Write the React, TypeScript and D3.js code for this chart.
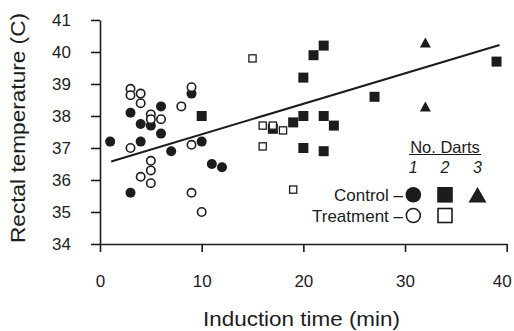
import React, { useEffect, useRef } from 'react';
import * as d3 from 'd3';

// [induction time (min), rectal temperature (C)]
const controlOneDart = [
  [1, 37.2], [3, 38.1], [3, 35.6], [4, 37.75], [4, 37.2], [5, 37.7], [6, 38.3],
  [6, 37.45], [7, 36.9], [9, 38.7], [10, 37.2], [11, 36.5], [12, 36.4],
];
const treatmentOneDart = [
  [3, 38.85], [3, 38.65], [4, 38.7], [4, 38.4], [5, 38.05], [5, 37.9], [6, 37.9],
  [3, 37.0], [8, 38.3], [9, 38.9], [9, 37.1], [9, 35.6], [10, 35.0], [5, 36.6],
  [5, 36.3], [4, 36.1], [5, 35.9],
];
const controlTwoDarts = [
  [10, 38.0], [22, 40.2], [21, 39.9], [20, 39.2], [27, 38.6], [39, 39.7], [20, 38.0],
  [19, 37.8], [22, 38.0], [23, 37.7], [17, 37.6], [20, 37.0], [22, 36.9],
];
const treatmentTwoDarts = [
  [15, 39.8], [16, 37.7], [17, 37.7], [18, 37.55], [16, 37.05], [19, 35.7],
];
const controlThreeDarts = [[32, 40.3], [32, 38.3]];

// regression line end points
const fitX = [1.1, 39.3];
const fitY = [36.58, 40.22];

const xTicks = [0, 10, 20, 30, 40];
const yTicks = [34, 35, 36, 37, 38, 39, 40, 41];
const dartLabels = ['1', '2', '3'];

const INK = '#1c1c1c';
const FONT = 'Liberation Sans, Arial, sans-serif';

const tri = (cx, cy, w, h) =>
  `M${cx},${cy - h / 2}L${cx + w / 2},${cy + h / 2}L${cx - w / 2},${cy + h / 2}Z`;

const App = () => {
  const svgRef = useRef(null);

  useEffect(() => {
    const svg = d3.select(svgRef.current);
    svg.selectAll('*').remove();

    const x = d3.scaleLinear().domain([0, 40]).range([100, 506.7]);
    const y = d3.scaleLinear().domain([34, 41]).range([244, 20]);

    // Y axis
    const gy = svg.append('g')
      .attr('transform', 'translate(100,0)')
      .call(d3.axisLeft(y).tickValues(yTicks).tickFormat(d3.format('d'))
        .tickSize(9).tickSizeOuter(0).tickPadding(20));
    // X axis
    const gx = svg.append('g')
      .attr('transform', 'translate(0,244)')
      .call(d3.axisBottom(x).tickValues(xTicks).tickFormat(d3.format('d'))
        .tickSize(8).tickSizeOuter(0).tickPadding(23));

    [gx, gy].forEach(g => {
      g.attr('font-family', FONT).attr('font-size', 17);
      g.selectAll('path, line').attr('stroke', INK).attr('stroke-width', 1.6);
      g.selectAll('text').attr('fill', INK);
    });
    // keep the last x label inside the frame
    gx.selectAll('.tick text').filter(d => d === 40).attr('dx', -5);

    // regression line
    svg.append('line')
      .attr('x1', x(fitX[0])).attr('y1', y(fitY[0]))
      .attr('x2', x(fitX[1])).attr('y2', y(fitY[1]))
      .attr('stroke', INK).attr('stroke-width', 2);

    // points
    svg.append('g').selectAll('circle')
      .data(controlOneDart).enter().append('circle')
      .attr('cx', d => x(d[0])).attr('cy', d => y(d[1])).attr('r', 5)
      .attr('fill', INK);

    svg.append('g').selectAll('circle')
      .data(treatmentOneDart).enter().append('circle')
      .attr('cx', d => x(d[0])).attr('cy', d => y(d[1])).attr('r', 4.2)
      .attr('fill', 'white').attr('stroke', INK).attr('stroke-width', 1.6);

    svg.append('g').selectAll('rect')
      .data(controlTwoDarts).enter().append('rect')
      .attr('x', d => x(d[0]) - 5).attr('y', d => y(d[1]) - 5)
      .attr('width', 10).attr('height', 10)
      .attr('fill', INK);

    svg.append('g').selectAll('rect')
      .data(treatmentTwoDarts).enter().append('rect')
      .attr('x', d => x(d[0]) - 3.6).attr('y', d => y(d[1]) - 3.6)
      .attr('width', 7.2).attr('height', 7.2)
      .attr('fill', 'white').attr('stroke', INK).attr('stroke-width', 1.3);

    svg.append('g').selectAll('path')
      .data(controlThreeDarts).enter().append('path')
      .attr('d', d => tri(x(d[0]), y(d[1]), 11, 10))
      .attr('fill', INK);

    // legend
    const lg = svg.append('g').attr('font-family', FONT).attr('fill', INK);
    const colX = [413.3, 445, 477.5];
    lg.append('text').attr('x', 445).attr('y', 152.5).attr('text-anchor', 'middle')
      .attr('font-size', 16.5).text('No. Darts');
    lg.append('line').attr('x1', 409).attr('x2', 481).attr('y1', 154.5).attr('y2', 154.5)
      .attr('stroke', INK).attr('stroke-width', 1.2);
    lg.selectAll('text.n').data(dartLabels).enter().append('text')
      .attr('class', 'n')
      .attr('x', (d, i) => colX[i]).attr('y', 173).attr('text-anchor', 'middle')
      .attr('font-size', 16).attr('font-style', 'italic').text(d => d);

    const rowC = 194.8;
    const rowT = 215.5;
    lg.append('text').attr('x', 403).attr('y', rowC + 6.5).attr('text-anchor', 'end')
      .attr('font-size', 17).text('Control –');
    lg.append('text').attr('x', 403).attr('y', rowT + 6.5).attr('text-anchor', 'end')
      .attr('font-size', 17).text('Treatment –');

    lg.append('circle').attr('cx', colX[0]).attr('cy', rowC).attr('r', 7.8).attr('fill', INK);
    lg.append('rect').attr('x', colX[1] - 7.8).attr('y', rowC - 7.8)
      .attr('width', 15.6).attr('height', 15.6).attr('fill', INK);
    lg.append('path').attr('d', tri(colX[2], rowC, 18, 15.5)).attr('fill', INK);
    lg.append('circle').attr('cx', colX[0]).attr('cy', rowT).attr('r', 7)
      .attr('fill', 'white').attr('stroke', INK).attr('stroke-width', 1.6);
    lg.append('rect').attr('x', colX[1] - 7).attr('y', rowT - 7)
      .attr('width', 14).attr('height', 14)
      .attr('fill', 'white').attr('stroke', INK).attr('stroke-width', 1.6);

    // axis titles
    svg.append('text')
      .attr('x', 301.5).attr('y', 326).attr('text-anchor', 'middle')
      .attr('font-family', FONT).attr('font-size', 21).attr('fill', INK)
      .attr('textLength', 197).attr('lengthAdjust', 'spacingAndGlyphs')
      .text('Induction time (min)');
    svg.append('text')
      .attr('transform', 'translate(25,128) rotate(-90)').attr('text-anchor', 'middle')
      .attr('font-family', FONT).attr('font-size', 21).attr('fill', INK)
      .attr('textLength', 230).attr('lengthAdjust', 'spacingAndGlyphs')
      .text('Rectal temperature (C)');
  }, []);

  return (
    <svg
      ref={svgRef}
      width={514}
      height={331}
      style={{ position: 'absolute', left: 0, top: 0, background: 'white' }}
    />
  );
};

export default App;
